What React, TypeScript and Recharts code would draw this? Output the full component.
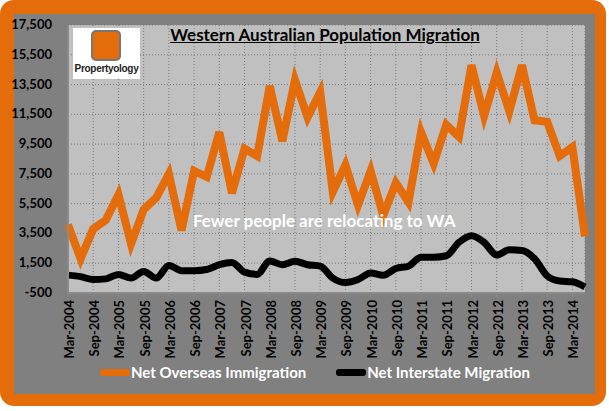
import React from 'react';
import { LineChart, Line, XAxis, YAxis, CartesianGrid } from 'recharts';

const quarters = [
  'Mar-2004', 'Jun-2004', 'Sep-2004', 'Dec-2004',
  'Mar-2005', 'Jun-2005', 'Sep-2005', 'Dec-2005',
  'Mar-2006', 'Jun-2006', 'Sep-2006', 'Dec-2006',
  'Mar-2007', 'Jun-2007', 'Sep-2007', 'Dec-2007',
  'Mar-2008', 'Jun-2008', 'Sep-2008', 'Dec-2008',
  'Mar-2009', 'Jun-2009', 'Sep-2009', 'Dec-2009',
  'Mar-2010', 'Jun-2010', 'Sep-2010', 'Dec-2010',
  'Mar-2011', 'Jun-2011', 'Sep-2011', 'Dec-2011',
  'Mar-2012', 'Jun-2012', 'Sep-2012', 'Dec-2012',
  'Mar-2013', 'Jun-2013', 'Sep-2013', 'Dec-2013',
  'Mar-2014', 'Jun-2014',
];

const overseas = [
  4100, 1800, 3800, 4400, 6100, 2800, 5100, 5900, 7500, 3700,
  7700, 7300, 10300, 6200, 9200, 8700, 13400, 9700, 13800, 11300,
  13000, 6300, 8100, 5400, 7700, 4700, 6900, 5600, 10300, 8200,
  10800, 10000, 14800, 11400, 14300, 11700, 14800, 11100, 11000, 8700,
  9300, 3300,
];

const interstate = [
  700, 600, 400, 450, 750, 500, 950, 500, 1350, 1000,
  1000, 1080, 1400, 1550, 900, 750, 1650, 1400, 1630, 1400,
  1300, 500, 200, 400, 850, 700, 1150, 1300, 1900, 1900,
  2000, 2900, 3350, 2900, 2050, 2400, 2350, 1800, 650, 300,
  250, -100,
];

const yTicks = [-500, 1500, 3500, 5500, 7500, 9500, 11500, 13500, 15500, 17500];

const data = quarters.map((q, i) => ({
  quarter: q,
  overseas: overseas[i],
  interstate: interstate[i],
}));

const ORANGE = '#E46C0A';
const FONT = 'Lato, "Open Sans", sans-serif';

const XTick = (props: any) => {
  const { x, y, payload } = props;
  return (
    <text
      transform={`translate(${x + 6},${y + 1}) rotate(-90)`}
      textAnchor="end"
      fontFamily={FONT}
      fontWeight={700}
      fontSize={13}
      fill="#000"
    >
      {payload.value}
    </text>
  );
};

const YTick = (props: any) => {
  const { y, payload } = props;
  return (
    <text x={52} y={y + 4} textAnchor="end" fontFamily={FONT} fontWeight={700} fontSize={13} fill="#000">
      {Number(payload.value).toLocaleString('en-US')}
    </text>
  );
};

export default function App() {
  return (
    <div style={{ position: 'absolute', left: 0, top: 0, width: 609, height: 411, background: '#fff', fontFamily: FONT }}>
      <div style={{ position: 'absolute', left: 0, top: 0, width: 606, height: 406, background: ORANGE, borderRadius: 14 }} />
      <div style={{ position: 'absolute', left: 14, top: 14, width: 581, height: 380, background: '#808080' }} />
      <div style={{ position: 'absolute', left: 0, top: 0 }}>
        <LineChart width={609} height={411} data={data} margin={{ top: 25, right: 24, bottom: 58, left: 13 }}>
          <CartesianGrid fill="#C0C0C0" stroke="#7a7a7a" strokeDasharray="1 2" />
          <XAxis
            dataKey="quarter"
            interval={1}
            height={60}
            tick={<XTick />}
            axisLine={{ stroke: '#8a8a8a', strokeWidth: 2 }}
            tickLine={{ stroke: '#8a8a8a' }}
            tickSize={4}
          />
          <YAxis
            width={55}
            domain={[-500, 17500]}
            ticks={yTicks}
            tick={<YTick />}
            axisLine={{ stroke: '#8a8a8a', strokeWidth: 2 }}
            tickLine={false}
          />
          <Line
            type="linear"
            dataKey="overseas"
            stroke={ORANGE}
            strokeWidth={8}
            dot={false}
            isAnimationActive={false}
          />
          <Line
            type="monotone"
            dataKey="interstate"
            stroke="#000"
            strokeWidth={7}
            dot={false}
            isAnimationActive={false}
          />
        </LineChart>
      </div>
      {/* logo */}
      <div style={{ position: 'absolute', left: 73, top: 28, width: 67, height: 51, background: '#fff' }}>
        <div style={{ position: 'absolute', left: 18, top: 2, width: 30, height: 31, background: ORANGE, borderRadius: 5, border: '2px solid #777', boxSizing: 'border-box' }} />
        <div style={{ position: 'absolute', left: 0, top: 35, width: 67, textAlign: 'center', fontSize: 10, fontWeight: 700, color: '#222', fontFamily: '"Liberation Sans", Arial, sans-serif', letterSpacing: -0.3 }}>
          Propertyology
        </div>
      </div>
      {/* title */}
      <div style={{ position: 'absolute', left: 0, top: 24, width: 650, textAlign: 'center', fontSize: 17, fontWeight: 700, color: '#000', textDecoration: 'underline' }}>
        Western Australian Population Migration
      </div>
      {/* annotation */}
      <div style={{ position: 'absolute', left: 193, top: 210, fontSize: 17, fontWeight: 700, color: '#fff', whiteSpace: 'nowrap' }}>
        Fewer people are relocating to WA
      </div>
      {/* legend */}
      <div style={{ position: 'absolute', left: 100, top: 363, display: 'flex', alignItems: 'center', fontSize: 15, fontWeight: 700, color: '#fff', whiteSpace: 'nowrap' }}>
        <span style={{ display: 'inline-block', width: 30, height: 7, background: ORANGE, borderRadius: 3 }} />
        <span style={{ marginLeft: 1 }}>Net Overseas Immigration</span>
        <span style={{ display: 'inline-block', width: 30, height: 7, background: '#000', borderRadius: 3, marginLeft: 30 }} />
        <span style={{ marginLeft: 1 }}>Net Interstate Migration</span>
      </div>
    </div>
  );
}
